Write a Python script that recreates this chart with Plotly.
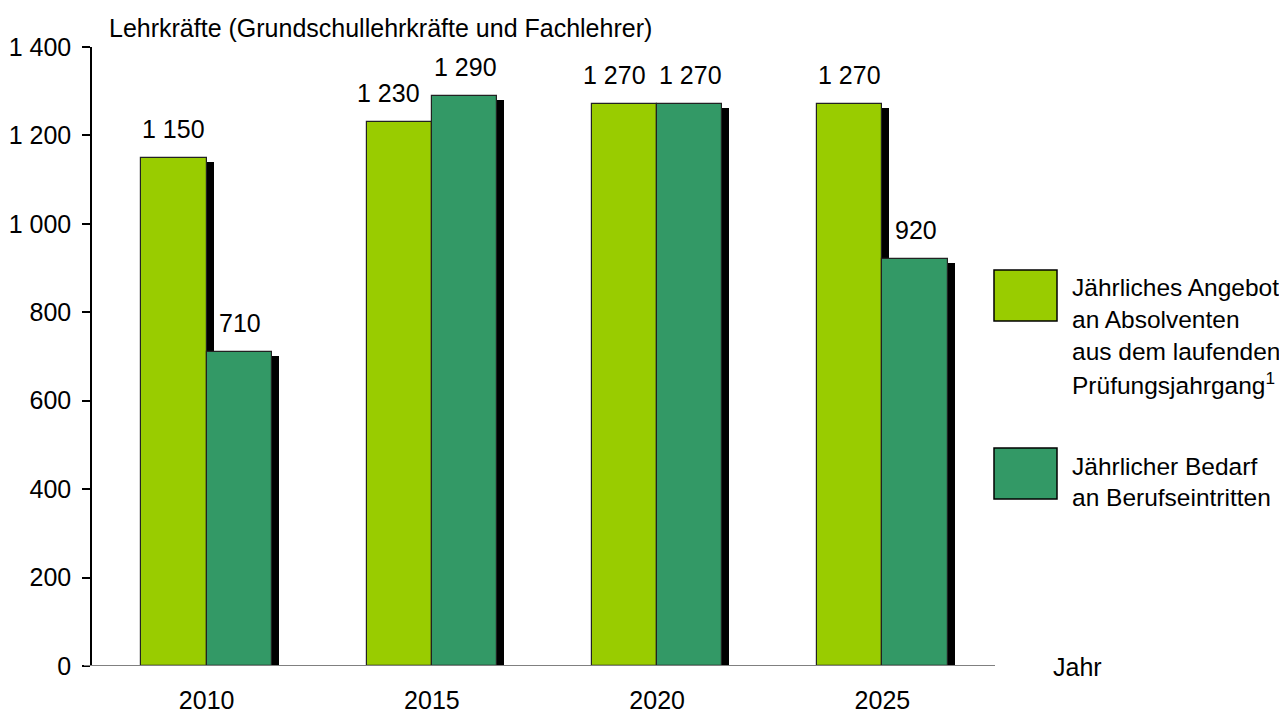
import plotly.graph_objects as go

years = ["2010", "2015", "2020", "2025"]
angebot = [1150, 1230, 1270, 1270]
bedarf = [710, 1290, 1270, 920]
y_ticks = [0, 200, 400, 600, 800, 1000, 1200, 1400]
y_tick_labels = ["0", "200", "400", "600", "800", "1 000", "1 200", "1 400"]
name_angebot = ["Jährliches Angebot", "an Absolventen", "aus dem laufenden", "Prüfungsjahrgang<sup>1</sup>"]
name_bedarf = ["Jährlicher Bedarf", "an Berufseintritten"]
y_title = "Lehrkräfte (Grundschullehrkräfte und Fachlehrer)"
x_title = "Jahr"

def fmt(v):
    return f"{v:,}".replace(",", " ")

FONT = "Liberation Sans, Arial, sans-serif"
FS = 25
LIGHT = "#99CC00"
DARK = "#339966"

W = 0.29      # bar width in category units
DX = 0.031    # shadow x offset
DY = 9        # shadow y offset (data units)

# label nudges (px) for the light-bar labels that would collide with the neighbour label
light_label_nudge = [0, -11, -10, 0]

xs = list(range(len(years)))
fig = go.Figure()

def add_bar(vals, offset, color):
    # shadow
    fig.add_trace(go.Bar(x=xs, y=vals, base=[-DY] * len(vals), offset=offset + DX, width=W,
                         marker=dict(color="black", line=dict(width=0)),
                         showlegend=False, hoverinfo="skip"))
    fig.add_trace(go.Bar(x=xs, y=vals, offset=offset, width=W,
                         marker=dict(color=color, line=dict(color="#222222", width=1.2)),
                         showlegend=False))

add_bar(angebot, -W, LIGHT)
add_bar(bedarf, 0, DARK)

ann = []
PX_PER_CAT = 225.2
for i, v in enumerate(angebot):
    ann.append(dict(x=i, y=v, xref="x", yref="y", text=fmt(v), showarrow=False,
                    xshift=-W / 2 * PX_PER_CAT + light_label_nudge[i], yshift=29, yanchor="middle",
                    font=dict(family=FONT, size=FS, color="black")))
for i, v in enumerate(bedarf):
    ann.append(dict(x=i, y=v, xref="x", yref="y", text=fmt(v), showarrow=False,
                    xshift=W / 2 * PX_PER_CAT + 1, yshift=29, yanchor="middle",
                    font=dict(family=FONT, size=FS, color="black")))

# axis titles
ann.append(dict(x=0, y=1, xref="paper", yref="paper", text=y_title, showarrow=False,
                xanchor="left", yanchor="middle", xshift=15, yshift=19,
                font=dict(family=FONT, size=FS, color="black")))
ann.append(dict(x=1, y=0, xref="paper", yref="paper", text=x_title, showarrow=False,
                xanchor="left", yanchor="middle", xshift=58, yshift=-1,
                font=dict(family=FONT, size=FS, color="black")))

# plot area in screen pixels
L, T, H, PW = 92, 47, 619, 901
def px(xp):
    return (xp - L) / PW
def py(yp):
    return (T + H - yp) / H

LFS = 24.5
shapes = []
for (y0, y1, col) in [(270, 321, LIGHT), (448, 499, DARK)]:
    shapes.append(dict(type="rect", xref="paper", yref="paper",
                       x0=px(994), x1=px(1057), y0=py(y1), y1=py(y0),
                       fillcolor=col, line=dict(color="black", width=1.5)))
for k, line in enumerate(name_angebot):
    ann.append(dict(x=px(1070), y=py(287 + 32 * k), xref="paper", yref="paper", text=line,
                    showarrow=False, xanchor="left", yanchor="middle",
                    font=dict(family=FONT, size=LFS, color="black")))
for k, line in enumerate(name_bedarf):
    ann.append(dict(x=px(1070), y=py(467 + 31 * k), xref="paper", yref="paper", text=line,
                    showarrow=False, xanchor="left", yanchor="middle",
                    font=dict(family=FONT, size=LFS, color="black")))

# grey baseline extending left of the y axis
shapes.append(dict(type="line", xref="paper", yref="y", x0=px(84), x1=px(995), y0=0, y1=0,
                   line=dict(color="#808080", width=2), layer="above"))

# page has an 8px body margin; compensate so the plot area lands at 92..993 x 47..666
OFF = 8
FIG_W, FIG_H = 1287 - OFF, 713 - OFF
fig.update_layout(
    width=FIG_W, height=FIG_H, autosize=False,
    margin=dict(l=L - OFF, r=FIG_W + OFF - (L + PW), t=T - OFF, b=FIG_H + OFF - (T + H), pad=0),
    paper_bgcolor="white", plot_bgcolor="white",
    barmode="overlay", bargap=0,
    showlegend=False,
    font=dict(family=FONT, size=FS, color="black"),
    annotations=ann, shapes=shapes,
    xaxis=dict(range=[-0.509, 3.491], tickvals=xs, ticktext=years, showgrid=False,
               zeroline=False, showline=False, ticks="", ticklabelstandoff=17,
               tickfont=dict(family=FONT, size=FS, color="black"), fixedrange=True,
               automargin=False),
    yaxis=dict(range=[0, 1400], tickvals=y_ticks, ticktext=y_tick_labels, showgrid=False,
               zeroline=False, showline=True, linecolor="black", linewidth=1.5,
               ticks="outside", ticklen=8, tickcolor="black", tickwidth=1.5,
               ticklabelstandoff=6, automargin=False,
               tickfont=dict(family=FONT, size=FS, color="black"), fixedrange=True),
)

fig.write_html("out.html")
